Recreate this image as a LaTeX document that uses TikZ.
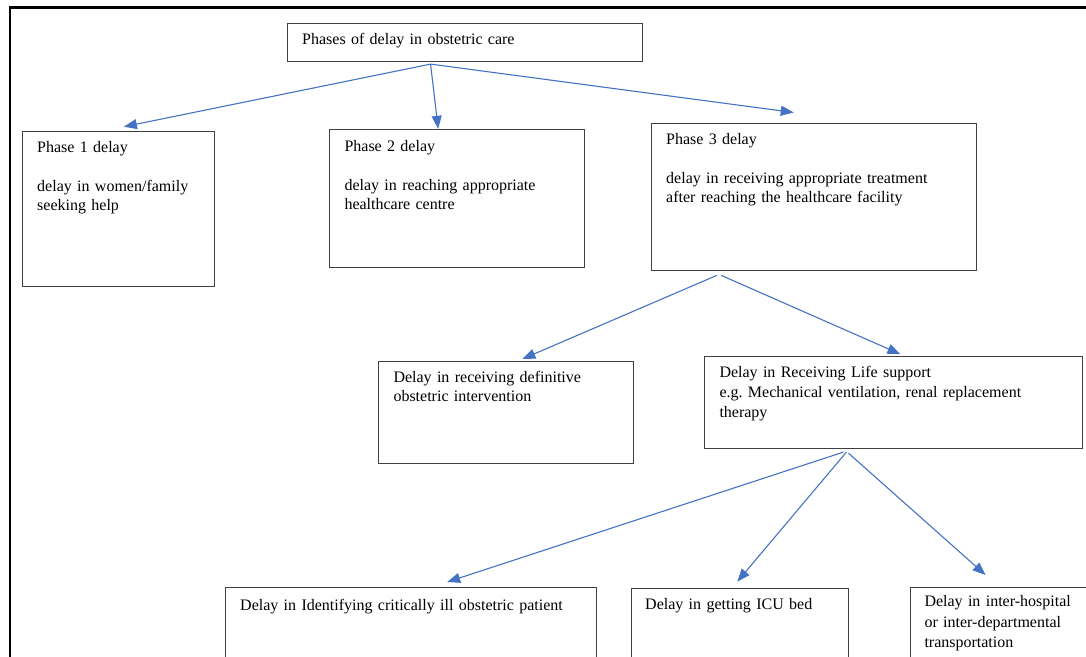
\documentclass[tikz,border=0pt]{standalone}
\usepackage{fontspec}
\setmainfont{Liberation Serif}
\usetikzlibrary{arrows.meta}
\definecolor{linkblue}{RGB}{68,114,196}

\begin{document}
\begin{tikzpicture}[x=1pt, y=-1pt,
    box/.style={draw=black!75, line width=1.1pt, anchor=north west, inner sep=0pt},
    txt/.style={anchor=base west, inner sep=0pt, text width=360pt, align=left,
        font=\fontsize{16}{19.5}\selectfont},
    link/.style={draw=linkblue, line width=1.1pt, -{Triangle[length=13pt,width=10pt]}},
    frame/.style={line width=2.4pt}]
        \clip (0,0) rectangle (1086,656);
        \draw[frame] (1090,7.5) -- (10,7.5) -- (10,660);

        \node[box, minimum width=355.6pt, minimum height=38.6pt] (top) at (286.7,22.7) {};
        \node[txt] (toptext) at ([shift={(15.3,21.3)}]top.north west) {Phases of delay in obstetric care};

        \node[box, minimum width=191.7pt, minimum height=155.6pt] (phaseone) at (22,130.7) {};
        \node[txt] (phaseonetext) at ([shift={(15,21.6)}]phaseone.north west)
            {Phase 1 delay\\[19.5pt]delay in women/family\\seeking help};
        \node[box, minimum width=254.7pt, minimum height=137.7pt] (phasetwo) at (329.3,129.3) {};
        \node[txt] (phasetwotext) at ([shift={(15,21.7)}]phasetwo.north west)
            {Phase 2 delay\\[19.5pt]delay in reaching appropriate\\healthcare centre};
        \node[box, minimum width=325pt, minimum height=146.7pt] (phasethree) at (650.7,123) {};
        \node[txt] (phasethreetext) at ([shift={(15.3,21.3)}]phasethree.north west)
            {Phase 3 delay\\[19.5pt]delay in receiving appropriate treatment\\after reaching the healthcare facility};

        \node[box, minimum width=255pt, minimum height=102pt] (definitive) at (378.3,361) {};
        \node[txt] (definitivetext) at ([shift={(15,21.3)}]definitive.north west)
            {Delay in receiving definitive\\obstetric intervention};
        \node[box, minimum width=377.7pt, minimum height=92.6pt] (life) at (704,355.7) {};
        \node[txt, font=\fontsize{16}{20}\selectfont] (lifetext) at ([shift={(15.3,21.6)}]life.north west)
            {Delay in Receiving Life support\\e.g.\ Mechanical ventilation, renal replacement\\therapy};

        \node[box, minimum width=370.7pt, minimum height=100pt] (identify) at (225.3,587.3) {};
        \node[txt] (identifytext) at ([shift={(14.7,22.7)}]identify.north west)
            {Delay in Identifying critically ill obstetric patient};
        \node[box, minimum width=217pt, minimum height=100pt] (icu) at (630.7,587.7) {};
        \node[txt] (icutext) at ([shift={(14.3,21.6)}]icu.north west) {Delay in getting ICU bed};
        \node[box, minimum width=190pt, minimum height=100pt] (transport) at (910,586.7) {};
        \node[txt, font=\fontsize{16}{20.5}\selectfont] (transporttext) at ([shift={(14.3,20)}]transport.north west)
            {Delay in inter-hospital\\or inter-departmental\\transportation};

        \coordinate (topfork) at ([shift={(-34.5,1.7)}]top.south);
        \draw[link] (topfork) -- ([shift={(5.5,-4)}]phaseone.north);
        \draw[link] (topfork) -- ([shift={(-19,-0.5)}]phasetwo.north);
        \draw[link] (topfork) -- ([shift={(-20,-10.5)}]phasethree.north);

        \coordinate (threeleft) at ([shift={(-97,4.6)}]phasethree.south);
        \coordinate (threeright) at ([shift={(-92.5,4.6)}]phasethree.south);
        \draw[link] (threeleft) -- ([shift={(16,-2)}]definitive.north);
        \draw[link] (threeright) -- ([shift={(7,-1.5)}]life.north);

        \coordinate (lifeleft) at ([shift={(-50,2.7)}]life.south);
        \coordinate (lifemid) at ([shift={(-47,2.7)}]life.south);
        \coordinate (liferight) at ([shift={(-45,3.7)}]life.south);
        \draw[link] (lifeleft) -- ([shift={(36,-5.3)}]identify.north);
        \draw[link] (lifemid) -- ([shift={(-2.5,-6)}]icu.north);
        \draw[link] (liferight) -- ([shift={(-20,-11.7)}]transport.north);
    \end{tikzpicture}
\end{document}
